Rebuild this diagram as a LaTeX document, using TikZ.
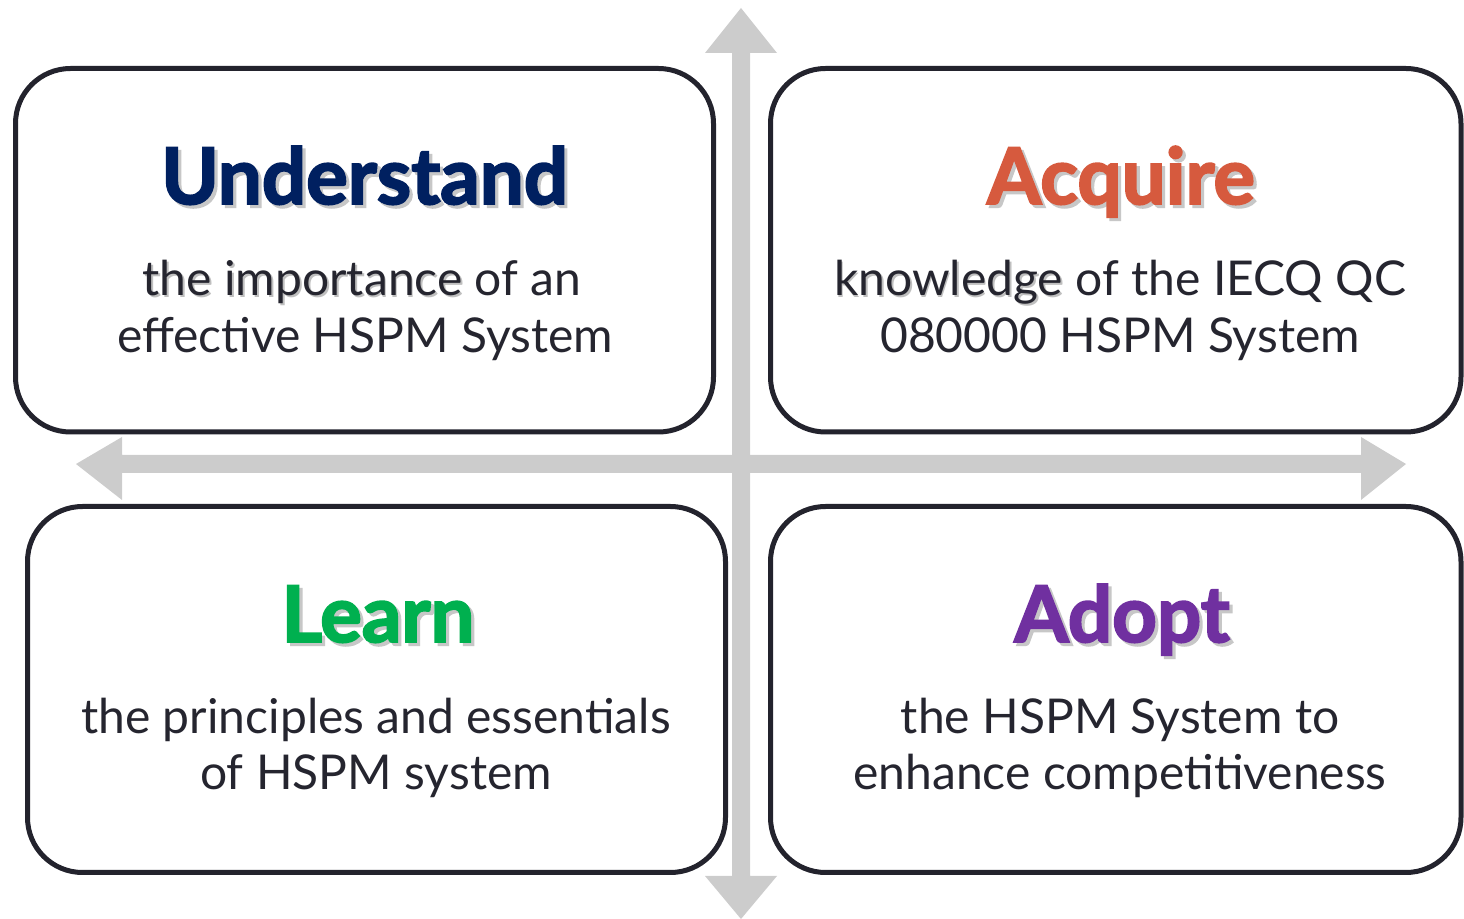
\documentclass[tikz,border=0pt]{standalone}
\usepackage{fontspec}
\setmainfont{Lato}
\newfontfamily\titlefont{Lato}[BoldFeatures={FakeBold=2.5}]
\definecolor{navy}{HTML}{002060}
\definecolor{acq}{HTML}{D65A3E}
\definecolor{lrn}{HTML}{00B04F}
\definecolor{adp}{HTML}{7030A0}
\definecolor{txt}{HTML}{25252F}
\definecolor{edge}{HTML}{23232D}
\definecolor{axis}{HTML}{CCCCCC}
\newcommand\shd[1]{\leavevmode\rlap{\kern0.9pt\raisebox{-0.9pt}{\color{black!25}#1}}#1}
\newcommand\tshd[1]{\leavevmode\rlap{\kern1.6pt\raisebox{-1.6pt}{\color{black!22}#1}}#1}
\begin{document}
\begin{tikzpicture}[x=0.5pt,y=-0.5pt,
  box/.style={draw=edge, line width=2.5pt, rounded corners=27.5pt, fill=white, inner sep=0pt},
  ttl/.style={anchor=base, inner sep=0pt, font=\titlefont\bfseries\fontsize{39}{46}\selectfont},
  sub/.style={anchor=base, inner sep=0pt, text=txt, font=\fontsize{24}{28}\selectfont}]
\useasboundingbox (0,0) rectangle (1464,919);
% axes
\fill[axis] (741,8) -- (777,53) -- (750,53) -- (750,876) -- (777,876) -- (741,919)
  -- (705,876) -- (732,876) -- (732,53) -- (705,53) -- cycle;
\fill[axis] (76,464) -- (122,437) -- (122,455) -- (1361,455) -- (1361,437) -- (1406,464)
  -- (1361,500) -- (1361,473) -- (122,473) -- (122,500) -- cycle;
% boxes
\node[box, minimum width=349pt, minimum height=181.75pt] (tl) at (364.5,250.25) {};
\node[box, minimum width=345.25pt, minimum height=181.75pt] (tr) at (1115.75,250.25) {};
\node[box, minimum width=349pt, minimum height=183pt] (bl) at (376.5,689.5) {};
\node[box, minimum width=345.25pt, minimum height=183pt] (br) at (1115.75,689.5) {};
% texts
\node[ttl, text=navy] (t1) at (364.5,204) {\tshd{Understand}};
\node[sub] (s1a) at (362,296) {\shd{the importance} of an};
\node[sub] (s1b) at (365,353) {effective HSPM System};
\node[ttl, text=acq] (t2) at (1121,204) {\tshd{Acquire}};
\node[sub] (s2a) at (1120,296) {\shd{knowledge} of the IECQ QC};
\node[sub] (s2b) at (1120,353) {080000 HSPM System};
\node[ttl, text=lrn] (t3) at (378,642) {\tshd{Learn}};
\node[sub] (s3a) at (376,734) {the principles and essentials};
\node[sub] (s3b) at (376,790) {of HSPM system};
\node[ttl, text=adp] (t4) at (1122,642) {\tshd{Adopt}};
\node[sub] (s4a) at (1120,734) {the HSPM System to};
\node[sub] (s4b) at (1120,790) {enhance competitiveness};
\end{tikzpicture}
\end{document}
